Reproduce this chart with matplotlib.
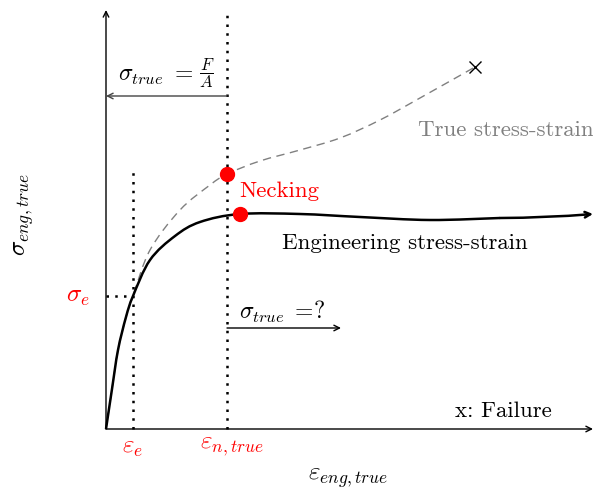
import numpy as np
import matplotlib.pyplot as plt
from matplotlib.path import Path
from matplotlib.patches import PathPatch

plt.rcParams['mathtext.fontset'] = 'cm'
plt.rcParams['axes.unicode_minus'] = False
SERIF = 'cmr10'

# engineering curve (strain, stress), arbitrary units
eng_strain = [0.0, 0.06, 0.12, 0.20, 0.27, 0.44, 0.69, 0.94, 1.34, 1.94, 2.54, 3.24, 3.94, 4.87]
eng_stress = [0.0, 0.40, 0.79, 1.12, 1.33, 1.69, 1.93, 2.07, 2.15, 2.15, 2.12, 2.09, 2.11, 2.15]

# true curve, ends at failure
true_strain = [0.0, 0.06, 0.12, 0.20, 0.27, 0.44, 0.74, 1.04, 1.21, 1.54, 1.94, 2.34, 2.74, 3.14, 3.69]
true_stress = [0.0, 0.40, 0.79, 1.12, 1.33, 1.79, 2.19, 2.44, 2.55, 2.68, 2.79, 2.91, 3.09, 3.31, 3.62]

eps_e, sig_e = 0.27, 1.33
eps_n = 1.21
neck_true = (1.21, 2.55)
neck_eng = (1.34, 2.15)
x_max, y_max = 4.87, 4.19


def smooth_path(xs, ys, tension=6.0):
    # Catmull-Rom through the points, written as cubic Bezier segments
    pts = np.column_stack([xs, ys])
    verts = [pts[0]]
    codes = [Path.MOVETO]
    for i in range(len(pts) - 1):
        p0 = pts[max(i - 1, 0)]
        p1, p2 = pts[i], pts[i + 1]
        p3 = pts[min(i + 2, len(pts) - 1)]
        verts += [p1 + (p2 - p0) / tension, p2 - (p3 - p1) / tension, p2]
        codes += [Path.CURVE4] * 3
    return Path(verts, codes)


fig = plt.figure(figsize=(5.93, 4.91), dpi=100)
ax = fig.add_axes([0, 0, 1, 1])
ax.set_xlim(-1.06, 4.87)
ax.set_ylim(-0.62, 4.29)
ax.axis('off')

arrow = dict(arrowstyle='->', color='black', lw=1.0, shrinkA=0, shrinkB=0)
ax.annotate('', xy=(0, y_max), xytext=(0, 0), arrowprops=arrow)
ax.annotate('', xy=(x_max, 0), xytext=(0, 0), arrowprops=arrow)

dots = dict(color='black', lw=1.8, linestyle=(0, (1, 2.5)))
ax.plot([eps_e, eps_e], [0, 2.62], **dots)
ax.plot([0, eps_e], [sig_e, sig_e], **dots)
ax.plot([eps_n, eps_n], [0, y_max], **dots)

ax.add_patch(PathPatch(smooth_path(true_strain, true_stress), fill=False,
                       edgecolor='gray', lw=1.0, linestyle=(0, (6, 4))))
ax.add_patch(PathPatch(smooth_path(eng_strain[:-1], eng_stress[:-1]), fill=False,
                       edgecolor='black', lw=1.8))
ax.annotate('', xy=(eng_strain[-1], eng_stress[-1]),
            xytext=(eng_strain[-2], eng_stress[-2]),
            arrowprops=dict(arrowstyle='->', color='black', lw=1.8,
                            shrinkA=0, shrinkB=0,
                            connectionstyle='arc3,rad=0.02'))
ax.plot(true_strain[-1], true_stress[-1], marker='x', color='black', ms=8, mew=1.0)

ax.plot(*neck_true, 'o', color='red', ms=10)
ax.plot(*neck_eng, 'o', color='red', ms=10)
ax.text(neck_eng[0] - 0.01, 2.38, 'Necking', color='red', fontsize=16.5,
        family=SERIF, va='center', ha='left')

# sigma_true arrows
ax.annotate('', xy=(0, 3.33), xytext=(eps_n, 3.33),
            arrowprops=dict(arrowstyle='->', color='#444444', lw=1.0, shrinkA=0, shrinkB=0))
ax.text(0.875, 3.54, r'$\sigma_{true}\ =\ $', fontsize=17, ha='right', va='center')
ax.text(1.01, 3.56, r'$\dfrac{F}{A}$', fontsize=12, ha='center', va='center')
ax.annotate('', xy=(2.35, 1.01), xytext=(eps_n, 1.01),
            arrowprops=dict(arrowstyle='->', color='black', lw=1.0, shrinkA=0, shrinkB=0))
ax.text(1.33, 1.17, r'$\sigma_{true}\;=\!?$', fontsize=17, ha='left', va='center')

ax.text(3.12, 2.99, 'True stress-strain', color='gray', fontsize=16.5,
        family=SERIF, ha='left', va='center')
ax.text(1.76, 1.86, 'Engineering stress-strain', color='black', fontsize=16.5,
        family=SERIF, ha='left', va='center')
ax.text(3.49, 0.18, 'x: Failure', color='black', fontsize=16.5,
        family=SERIF, ha='left', va='center')

ax.text(-0.28, sig_e, r'$\sigma_e$', color='red', fontsize=18, ha='center', va='center')
ax.text(eps_e, -0.18, r'$\varepsilon_e$', color='red', fontsize=18, ha='center', va='center')
ax.text(eps_n + 0.05, -0.17, r'$\varepsilon_{n,true}$', color='red', fontsize=18,
        ha='center', va='center')
ax.text(2.42, -0.49, r'$\varepsilon_{eng,true}$', color='black', fontsize=18,
        ha='center', va='center')
ax.text(-0.82, 2.14, r'$\sigma_{eng,true}$', color='black', fontsize=18,
        ha='center', va='center', rotation=90)

fig.savefig('out.png', dpi=100)
